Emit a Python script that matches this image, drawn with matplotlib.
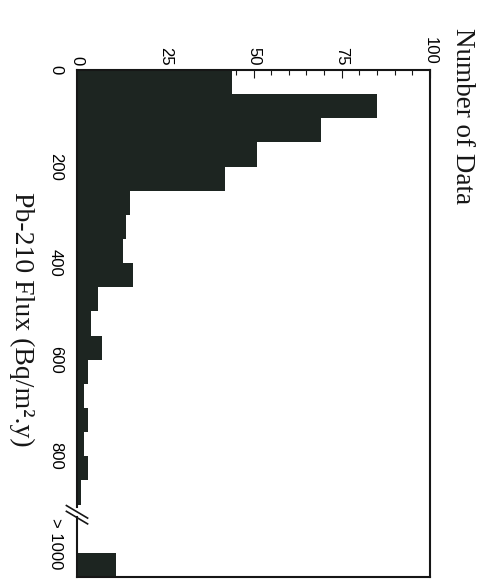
import numpy as np
import matplotlib
matplotlib.use("Agg")
from matplotlib import pyplot as plt

# histogram of Pb-210 flux, drawn rotated like the scanned page
bin_width = 50
bin_starts = [0, 50, 100, 150, 200, 250, 300, 350, 400, 450,
              500, 550, 600, 650, 700, 750, 800, 850]
counts = [44, 85, 69, 51, 42, 15, 14, 13, 16, 6,
          4, 7, 3, 2, 3, 2, 3, 1]
over_start = 1000
over_count = 11

flux_ticks = [0, 200, 400, 600, 800, 980]
flux_labels = ["0", "200", "400", "600", "800", "> 1000"]
count_ticks = [0, 25, 50, 75, 100]

bar_color = "#1d2521"
ink = "#161616"

fig = plt.figure(figsize=(4.93, 5.85), dpi=100)
ax = fig.add_axes([77 / 493, 1 - 577 / 585, 353 / 493, 507 / 585])

ax.barh(bin_starts, counts, height=bin_width, align="edge", left=0,
        color=bar_color, linewidth=0, zorder=3)
ax.barh([over_start], [over_count], height=bin_width, align="edge", left=0,
        color=bar_color, linewidth=0, zorder=3)

ax.set_xlim(0, 100)
ax.set_ylim(1050, 0)

# count axis on top, ticks pointing inwards
ax.xaxis.tick_top()
ax.set_xticks(count_ticks)
ax.set_xticks(np.arange(0, 101, 5), minor=True)
ax.tick_params(axis="x", which="major", direction="in", length=6, width=0.8,
               pad=3.5, color=ink, labelsize=12, labelrotation=-90)
ax.tick_params(axis="x", which="minor", direction="in", length=3.6, width=0.8,
               color=ink)
for lab in ax.get_xticklabels():
    lab.set_family("Liberation Sans")

ax.set_yticks(flux_ticks)
ax.set_yticklabels(flux_labels)
ax.tick_params(axis="y", length=0, pad=10, labelsize=12, labelrotation=-90)
for lab in ax.get_yticklabels():
    lab.set_family("Liberation Sans")
    lab.set_verticalalignment("center")

for side in ["top", "right", "bottom"]:
    ax.spines[side].set_linewidth(1.5)
    ax.spines[side].set_color(ink)
    ax.spines[side].set_zorder(4)
ax.spines["left"].set_visible(False)

# left axis line with a break before the >1000 bin
ax.plot([0, 0], [0, 906], color=ink, lw=1.5, clip_on=False, zorder=5)
ax.plot([0, 0], [926, 1050], color=ink, lw=1.5, clip_on=False, zorder=5)
ax.plot([-3, 3], [902, 928], color=ink, lw=1.2, clip_on=False, zorder=5)
ax.plot([-3, 3], [914, 940], color=ink, lw=1.2, clip_on=False, zorder=5)

fig.text(462 / 493, 1 - 28 / 585, "Number of Data", rotation=-90,
         ha="center", va="top", family="Liberation Serif", fontsize=19.5,
         color=ink)
fig.text(22 / 493, 1 - 319 / 585, "Pb-210 Flux (Bq/m\u00b2.y)", rotation=-90,
         ha="center", va="center", family="Liberation Serif", fontsize=20,
         color=ink)

fig.savefig("out.png", dpi=100)
